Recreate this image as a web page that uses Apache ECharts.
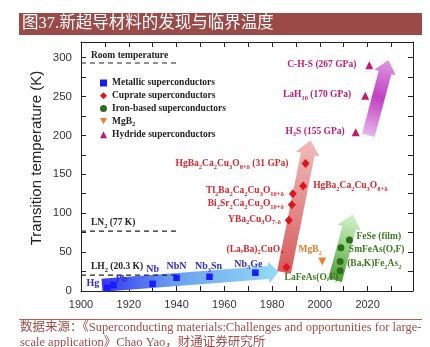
<!DOCTYPE html>
<html>
<head>
<meta charset="utf-8">
<script src="https://cdn.jsdelivr.net/npm/echarts@6/dist/echarts.min.js"></script>
<style>html,body{margin:0;padding:0;background:#fff}#c{width:430px;height:347px}</style>
</head>
<body>
<div id="c"></div>
<script>
const SERIF = '"Liberation Serif", "Times New Roman", serif';
const SANS = '"Liberation Sans", Arial, sans-serif';
const CJK = '"Liberation Serif", "Noto Sans CJK SC", serif';

// ---- tick labels ----
const xTickLabels = [1900, 1920, 1940, 1960, 1980, 2000, 2020];
const yTickLabels = [0, 50, 100, 150, 200, 250, 300];

// ---- data (year, Tc in K) ----
const metallicYear = [1911, 1913.6, 1930, 1940, 1953.8, 1973];
const metallicTc   = [4.2, 7.7, 9.2, 17, 18.3, 23.5];
const metallicName = ['Hg', 'Pb', 'Nb', 'NbN', 'Nb{s|3}Sn', 'Nb{s|3}Ge'];

const cuprateYear = [1986, 1987, 1988.3, 1988.7, 1993, 1994];
const cuprateTc   = [30.5, 91, 111, 125, 135, 164];
const cuprateName = ['(La,Ba){s|2}CuO{s|4}', 'YBa{s|2}Cu{s|3}O{s|7-δ}',
  'Bi{s|2}Sr{s|2}Ca{s|2}Cu{s|3}O{s|10+δ}', 'Tl{s|2}Ba{s|2}Ca{s|2}Cu{s|3}O{s|10+δ}',
  'HgBa{s|2}Ca{s|2}Cu{s|3}O{s|8+δ}', 'HgBa{s|2}Ca{s|2}Cu{s|3}O{s|8+δ} (31 GPa)'];

const ironYear = [2008.5, 2008.5, 2008.8, 2012.4];
const ironTc   = [26, 38, 55.5, 65.5];
const ironName = ['LaFeAs(O,F)', '(Ba,K)Fe{s|2}As{s|2}', 'SmFeAs(O,F)', 'FeSe (film)'];

const mgb2Year = [2001];
const mgb2Tc   = [38];
const mgb2Name = ['MgB{s|2}'];

const hydrideYear = [2015, 2019, 2020.7];
const hydrideTc   = [204, 251, 290];
const hydrideName = ['H{s|3}S (155 GPa)', 'LaH{s|10} (170 GPa)', 'C-H-S (267 GPa)'];

const refName = ['Room temperature', 'LN{s|2} (77 K)', 'LH{s|2} (20.3 K)'];
const refTemp = [293, 77, 20.3];
const refYearFrom = 1900;
const refYearTo = 1940.5;

// trend arrows: [year, K] tail -> tip
const arrowFrom = [[1908.8, 7.3], [1985, 24], [2006.4, 14], [2020.3, 200]];
const arrowTo   = [[1982.7, 24.7], [1996.1, 193.6], [2013.8, 98.7], [2028.7, 297]];

const legendNames = ['Metallic superconductors', 'Cuprate superconductors',
  'Iron-based superconductors', 'MgB2', 'Hydride superconductors'];

const titleText = '图37.新超导材料的发现与临界温度';
const sourceLine1 = '数据来源：《Superconducting materials:Challenges and opportunities for large-';
const sourceLine2 = 'scale application》Chao Yao，财通证券研究所';
const yName = 'Transition temperature (K)';

// ---- styles (label placement: [align, dx, dy]) ----
const metallicPlace = [['right', -8, -4], ['center', 8, -6], ['center', 0, -14], ['center', 0, -11], ['center', -1, -10], ['center', -7, -8.5]];
const cupratePlace = [['right', -3, -18], ['right', -8, -1], ['right', -8, -1], ['right', -9, -3], ['left', 10, 0], ['right', -17, 0]];
const ironPlace = [['right', -2, 7], ['left', 7, 2], ['left', 8, 2], ['left', 7, -3]];
const mgb2Place = [['center', -12, -12]];
const hydridePlace = [['right', -11, -1], ['right', -14, -1], ['right', -13, -1]];

const arrowStyle = [
  {w: 13, hw: 22, hl: 10, stops: [{offset: 0, color: '#3636f0'}, {offset: 0.4, color: '#6a9ef0'}, {offset: 1, color: '#94dcf6'}]},
  {w: 14, hw: 24, hl: 14, stops: [{offset: 0, color: '#d85a5a'}, {offset: 0.5, color: '#e38c8c'}, {offset: 1, color: '#f0bcbc'}]},
  {w: 14, hw: 24, hl: 14, stops: [{offset: 0, color: '#4e9a38'}, {offset: 0.5, color: '#93cf82'}, {offset: 1, color: '#d4f2cc'}]},
  {w: 13, hw: 22, hl: 13, stops: [{offset: 0, color: '#e8b6ea'}, {offset: 0.5, color: '#c23fc4'}, {offset: 1, color: '#dc9ae0'}]}
];

function subRich(color) {
  return { s: { fontSize: 6.5, padding: [7, 0, 0, 0], color: color, fontFamily: SERIF, fontWeight: 'bold' } };
}

function scatterSeries(name, years, tcs, labels, place, symbol, size, color, textColor, fontSize) {
  return {
    name: name, type: 'scatter', symbol: symbol, symbolSize: size, z: 5,
    itemStyle: { color: color, opacity: 1 },
    emphasis: { disabled: true },
    label: { show: true, color: textColor, fontFamily: SERIF, fontWeight: 'bold', fontSize: fontSize || 9.5,
      lineHeight: 12, textBorderWidth: 0, rich: subRich(textColor) },
    data: years.map((y, i) => ({
      value: [y, tcs[i]],
      label: { show: true, formatter: labels[i], position: 'inside', align: place[i][0], verticalAlign: 'middle',
        offset: [place[i][1], place[i][2]] }
    }))
  };
}

const axisCommon = {
  axisLine: { show: true, onZero: false, lineStyle: { color: '#222', width: 1 } },
  axisTick: { show: true, inside: true, length: 5, lineStyle: { color: '#222', width: 1 } },
  splitLine: { show: false }
};

const chart = echarts.init(document.getElementById('c'), null, { renderer: 'canvas' });

chart.setOption({
  backgroundColor: '#fff',
  animation: false,
  grid: { left: 81, right: 17, top: 42, bottom: 56, outerBoundsMode: 'none' },
  xAxis: [
    Object.assign({ type: 'value', min: 1900, max: 2039, interval: 10, position: 'bottom',
      axisLabel: { show: true, margin: 8, fontSize: 11, fontFamily: SANS, color: '#333',
        formatter: v => xTickLabels.includes(v) ? String(v) : '' } }, axisCommon),
    Object.assign({ type: 'value', min: 1900, max: 2039, interval: 10, position: 'top',
      axisLabel: { show: false } }, axisCommon)
  ],
  yAxis: [
    Object.assign({ type: 'value', min: 0, max: 320, interval: 25, position: 'left',
      axisLabel: { show: true, margin: 9, fontSize: 11.5, fontFamily: SANS, color: '#333',
        formatter: v => yTickLabels.includes(v) ? String(v) : '' } }, axisCommon),
    Object.assign({ type: 'value', min: 0, max: 320, interval: 25, position: 'right',
      axisLabel: { show: false } }, axisCommon)
  ],
  legend: {
    data: legendNames, orient: 'vertical', left: 100, top: 77, padding: 0, itemWidth: 7, itemHeight: 7, itemGap: 0.7,
    selectedMode: false,
    formatter: n => n === 'MgB2' ? 'MgB{s|2}' : n,
    textStyle: { fontFamily: SERIF, fontWeight: 'bold', fontSize: 9.5, color: '#222', lineHeight: 12, rich: subRich('#222') }
  },
  graphic: [
    { type: 'rect', left: 19, top: 13, shape: { width: 403, height: 22 }, style: { fill: '#9b4a48' }, silent: true },
    { type: 'text', left: 22, top: 15.5, style: { text: titleText, fill: '#fff', fontSize: 16.5, fontFamily: CJK } },
    { type: 'line', shape: { x1: 19, y1: 319.5, x2: 422, y2: 319.5 }, style: { stroke: '#b55a55', lineWidth: 1 } },
    { type: 'text', left: 20, top: 321, style: { text: sourceLine1, fill: '#a04c48', fontSize: 12.5, fontFamily: CJK } },
    { type: 'text', left: 20, top: 336, style: { text: sourceLine2, fill: '#a04c48', fontSize: 12.5, fontFamily: CJK } },
    { type: 'text', x: 37, y: 158, rotation: Math.PI / 2,
      style: { text: yName, fill: '#222', fontSize: 15, fontFamily: SANS, align: 'center', verticalAlign: 'middle' } }
  ],
  series: [
    {
      type: 'custom', name: 'arrows', z: 1, silent: true,
      encode: { x: [0, 2], y: [1, 3] },
      data: arrowFrom.map((f, i) => [f[0], f[1], arrowTo[i][0], arrowTo[i][1]]),
      renderItem: function (params, api) {
        const a = api.coord([api.value(0), api.value(1)]);
        const b = api.coord([api.value(2), api.value(3)]);
        const st = arrowStyle[params.dataIndex];
        const dx = b[0] - a[0], dy = b[1] - a[1], L = Math.hypot(dx, dy);
        const ux = dx / L, uy = dy / L, nx = -uy, ny = ux;
        const hb = [b[0] - ux * st.hl, b[1] - uy * st.hl];
        const w = st.w / 2, h = st.hw / 2;
        const pts = [
          [a[0] + nx * w, a[1] + ny * w], [hb[0] + nx * w, hb[1] + ny * w], [hb[0] + nx * h, hb[1] + ny * h],
          [b[0], b[1]],
          [hb[0] - nx * h, hb[1] - ny * h], [hb[0] - nx * w, hb[1] - ny * w], [a[0] - nx * w, a[1] - ny * w]
        ];
        return { type: 'polygon', shape: { points: pts },
          style: { fill: new echarts.graphic.LinearGradient(a[0], a[1], b[0], b[1], st.stops, true) } };
      }
    },
    {
      type: 'custom', name: 'refs', z: 2, silent: true,
      encode: { x: [0, 1], y: 2 },
      data: refTemp.map(t => [refYearFrom, refYearTo, t]),
      renderItem: function (params, api) {
        const T = api.value(2);
        const p1 = api.coord([api.value(0), T]);
        const p2 = api.coord([api.value(1), T]);
        const i = params.dataIndex;
        return { type: 'group', children: [
          { type: 'line', shape: { x1: p1[0], y1: p1[1], x2: p2[0], y2: p2[1] },
            style: { stroke: '#222', lineWidth: 1.2, lineDash: [5, 4] } },
          { type: 'text', x: p1[0] + 10, y: p1[1] - (i === 0 ? 7 : 8.5),
            style: { text: refName[i], fill: '#222', fontSize: 9.5, fontWeight: 'bold', fontFamily: SERIF,
              align: 'left', verticalAlign: 'middle', lineHeight: 12,
              rich: { s: { fontSize: 6.5, padding: [7, 0, 0, 0], fill: '#222', fontFamily: SERIF, fontWeight: 'bold' } } } }
        ] };
      }
    },
    scatterSeries('Metallic superconductors', metallicYear, metallicTc, metallicName, metallicPlace, 'rect', 6.5, '#1a1aff', '#2c2ce0', 10),
    scatterSeries('Cuprate superconductors', cuprateYear, cuprateTc, cuprateName, cupratePlace, 'diamond', [8, 9], '#e0141c', '#d9252d', 9.5),
    scatterSeries('Iron-based superconductors', ironYear, ironTc, ironName, ironPlace, 'circle', 7, '#2b6e17', '#3d7a22', 9.5),
    scatterSeries('MgB2', mgb2Year, mgb2Tc, mgb2Name, mgb2Place, 'path://M0,0L10,0L5,9Z', 8, '#e8822f', '#e07a2a', 9.5),
    scatterSeries('Hydride superconductors', hydrideYear, hydrideTc, hydrideName, hydridePlace, 'triangle', 8, '#c8186e', '#c8186e', 9.5)
  ]
});
</script>
</body>
</html>
